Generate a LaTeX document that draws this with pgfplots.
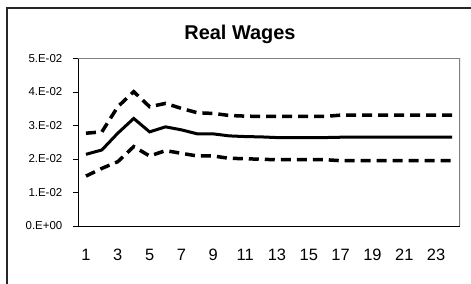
\documentclass[border=0pt]{standalone}
\usepackage{pgfplots}
\pgfplotsset{compat=1.18}
\usepackage{pgfplotstable}
\usepackage{fontspec}
\setmainfont{Liberation Sans}

\pgfplotstableread{
x mid upper lower
1  0.0214 0.0277 0.0149
2  0.0227 0.0281 0.0172
3  0.0277 0.0356 0.0192
4  0.0321 0.0401 0.0237
5  0.0281 0.0356 0.0209
6  0.0296 0.0366 0.0225
7  0.0287 0.0351 0.0217
8  0.0275 0.0338 0.0209
9  0.0275 0.0336 0.0209
10 0.0269 0.0330 0.0202
11 0.0267 0.0328 0.0201
12 0.0266 0.0327 0.0199
13 0.0264 0.0327 0.0198
14 0.0264 0.0327 0.0198
15 0.0264 0.0327 0.0198
16 0.0264 0.0327 0.0198
17 0.0265 0.0331 0.0195
18 0.0265 0.0331 0.0195
19 0.0265 0.0331 0.0195
20 0.0265 0.0331 0.0195
21 0.0265 0.0331 0.0195
22 0.0265 0.0331 0.0195
23 0.0265 0.0331 0.0195
24 0.0265 0.0331 0.0195
}\datatable

\begin{document}
\begin{tikzpicture}
\useasboundingbox (0,0) rectangle (471bp,-284bp);
\draw[line width=1.2bp, black!85] (7bp,-284bp) -- (7bp,-8bp) -- (471bp,-8bp);
\begin{axis}[
  at={(78bp,-226bp)}, anchor=south west,
  scale only axis, width=382bp, height=167.5bp,
  xmin=0.5, xmax=24.5, ymin=0, ymax=0.05,
  scaled y ticks=false,
  axis line style={draw=none},
  tick align=outside,
  xtick pos=bottom, ytick pos=left,
  xtick={1,...,24},
  xticklabels={1,,3,,5,,7,,9,,11,,13,,15,,17,,19,,21,,23,},
  xtick style={draw=none},
  minor xtick={0.5,1.5,...,24.5},
  minor x tick style={black, line width=0.8bp},
  minor tick length=5bp,
  major tick length=5bp,
  ytick={0,0.01,0.02,0.03,0.04,0.05},
  yticklabels={0.E+00,1.E-02,2.E-02,3.E-02,4.E-02,5.E-02},
  ytick style={black, line width=0.8bp},
  yticklabel style={font=\fontsize{11.5}{13}\selectfont, anchor=east, inner sep=0pt, xshift=-10.5bp},
  xticklabel style={font=\fontsize{16.5}{18}\selectfont, anchor=base, inner sep=0pt, yshift=-29bp},
  title={\fontsize{20}{22}\selectfont\bfseries Real Wages},
  title style={at={(axis description cs:0.5,1)}, anchor=base, yshift=13bp, xshift=-29bp, inner sep=0pt},
]
\addplot[black, line width=3.5bp, dash pattern=on 10bp off 6bp] table[x=x, y=upper] {\datatable};
\addplot[black, line width=3.5bp, dash pattern=on 10bp off 6bp] table[x=x, y=lower] {\datatable};
\addplot[black, line width=3bp] table[x=x, y=mid] {\datatable};
\draw[gray, line width=1.5bp] (rel axis cs:0,1) -- (rel axis cs:1,1) -- (rel axis cs:1,0);
\draw[black, line width=1bp] (rel axis cs:0,1) -- (rel axis cs:0,0) -- (rel axis cs:1,0);
\end{axis}
\end{tikzpicture}
\end{document}
